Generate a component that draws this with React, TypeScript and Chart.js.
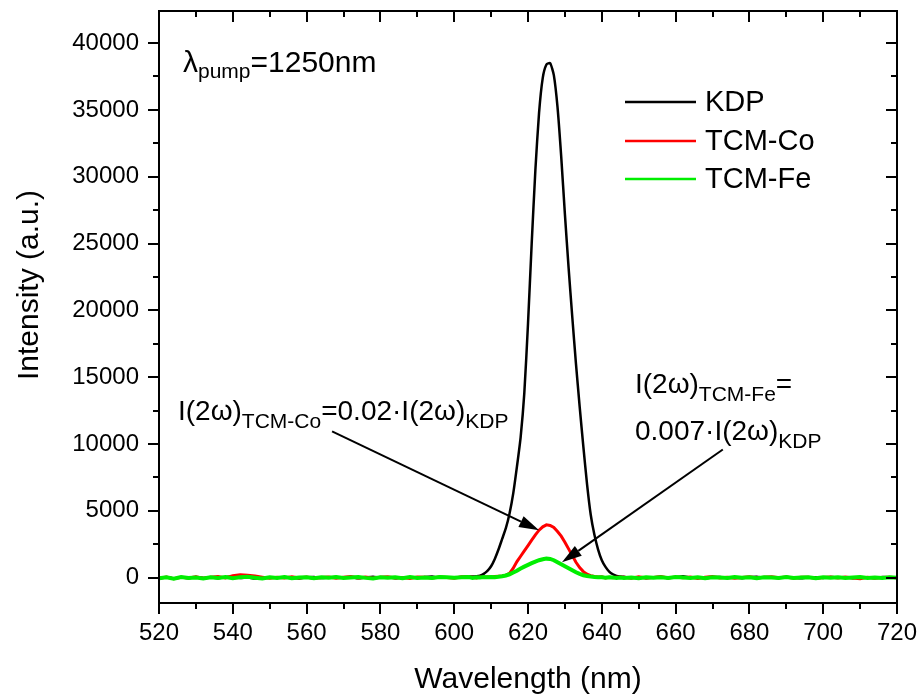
import React, { useEffect, useRef } from "react";
import { Chart, registerables } from "chart.js";

Chart.register(...registerables);

// ---------- data ----------
const wavelengths = [
  520, 522, 524, 526, 528, 530, 532, 534, 536, 538,
  540, 542, 544, 546, 548, 550, 552, 554, 556, 558,
  560, 562, 564, 566, 568, 570, 572, 574, 576, 578,
  580, 582, 584, 586, 588, 590, 592, 594, 596, 598,
  600, 602, 604,
  605, 606, 607, 608, 609, 610, 611, 612, 613, 614,
  615, 616, 617, 618, 619, 620, 621, 622, 623, 624,
  625, 626, 627, 628, 629, 630, 631, 632, 633, 634,
  635, 636, 637, 638, 639, 640, 641, 642, 643, 644,
  645,
  646, 648, 650, 652, 654, 656, 658, 660, 662, 664,
  666, 668, 670, 672, 674, 676, 678, 680, 682, 684,
  686, 688, 690, 692, 694, 696, 698, 700, 702, 704,
  706, 708, 710, 712, 714, 716, 718, 720,
];

const kdp = [
  -40, 30, -60, 20, -30, 50, -20, 10, -50, 40,
  60, -30, 20, -70, 10, 30, -20, 40, -10, -60,
  20, 50, -30, 10, 40, -20, 30, -50, 10, 60,
  -10, 20, -40, 30, 10, -20, 40, 80, -10, 30,
  20, 50, 90,
  80, 100, 150, 280, 500, 850, 1400, 2100, 2900, 3700,
  4800, 6300, 8300, 10500, 13800, 19000, 25000, 30500, 34800, 37400,
  38400, 38500, 37600, 35200, 31500, 27200, 23200, 19500, 16000, 12800,
  9800, 7000, 4700, 3200, 2100, 1300, 800, 450, 250, 130,
  80,
  60, -20, 30, -40, 10, 50, -30, 20, 100, -10,
  30, -50, 20, 40, -20, 10, -40, 30, 60, -10,
  20, -30, 40, 10, -50, 30, 20, -20, 50, -10,
  30, -40, 10, 20, -30, 40, 10, -20,
];

const tcmCo = [
  -60, 40, -80, 30, -20, 60, -40, 20, 80, -30,
  150, 220, 180, 120, 30, -50, 20, -30, 60, -20,
  40, -60, 10, 50, -40, 30, 80, -20, 40, -50,
  20, 60, -30, 10, -60, 40, 20, -30, 50, 10,
  -40, 60, 30,
  20, -30, 40, 10, 60, 40, 80, 100, 120, 180,
  320, 700, 1200, 1600, 2000, 2400, 2800, 3200, 3550, 3800,
  3950, 3900, 3750, 3450, 3100, 2650, 2150, 1650, 1150, 750,
  450, 250, 150, 80, 40, 60, -20, 30, -10, 20,
  20,
  30, -40, 60, -20, 10, 80, -30, 40, -10, 50,
  -60, 20, 90, -20, 30, -40, 10, 60, -30, 20,
  70, -10, 40, -50, 20, 30, -60, 10, 50, -20,
  40, -30, -80, 20, -40, 10, 30, -20,
];

const tcmFe = [
  -50, 20, -80, 40, -30, 10, -60, 30, -20, 50,
  -40, 20, 60, -10, -70, 30, -20, 40, -50, 10,
  30, -40, 20, -10, 50, -30, 10, 40, -20, -60,
  30, -10, 20, -40, 50, -20, 10, -30, 40, 20,
  -10, 30, 50,
  -20, 30, 10, 40, 20, 50, 30, 60, 100, 160,
  250, 380, 520, 680, 820, 950, 1080, 1200, 1300, 1370,
  1420, 1400, 1300, 1150, 1000, 850, 700, 550, 400, 280,
  180, 120, 80, 50, 30, 20, -10, 30, 10, -20,
  10,
  -20, 10, -40, 30, -10, 20, -30, 40, 10, -20,
  30, -50, 20, 10, -30, 40, -10, 20, -40, 30,
  10, -20, 40, -30, 10, 20, -40, 30, -10, 20,
  -30, 10, 40, -20, 10, -30, 20, -10,
];

const seriesNames = ["KDP", "TCM-Co", "TCM-Fe"];
const seriesColors = ["#000000", "#ff0000", "#00ee00"];

const xTicks = [520, 540, 560, 580, 600, 620, 640, 660, 680, 700, 720];
const yTicks = [0, 5000, 10000, 15000, 20000, 25000, 30000, 35000, 40000];

const xTitle = "Wavelength (nm)";
const yTitle = "Intensity (a.u.)";

// annotation arrows in data units: [x0, y0, x1, y1]
const arrowCo = [566.9, 10940, 623.0, 3540];
const arrowFe = [672.8, 9590, 629.2, 1144];

const FONT = '"Liberation Sans", Arial, Helvetica, sans-serif';

type Part = [string, boolean];

function drawRich(
  ctx: CanvasRenderingContext2D,
  x: number,
  y: number,
  parts: Part[],
  big: number,
  small: number,
  subDy: number
) {
  let cx = x;
  ctx.textAlign = "left";
  ctx.textBaseline = "alphabetic";
  for (const [t, sub] of parts) {
    ctx.font = `${sub ? small : big}px ${FONT}`;
    ctx.fillText(t, cx, sub ? y + subDy : y);
    cx += ctx.measureText(t).width;
  }
}

function drawArrow(
  ctx: CanvasRenderingContext2D,
  x0: number,
  y0: number,
  x1: number,
  y1: number
) {
  const ang = Math.atan2(y1 - y0, x1 - x0);
  const hl = 20;
  const hw = 6;
  const bx = x1 - hl * Math.cos(ang);
  const by = y1 - hl * Math.sin(ang);
  ctx.beginPath();
  ctx.moveTo(x0, y0);
  ctx.lineTo(bx, by);
  ctx.stroke();
  ctx.beginPath();
  ctx.moveTo(x1, y1);
  ctx.lineTo(bx + hw * Math.sin(ang), by - hw * Math.cos(ang));
  ctx.lineTo(bx - hw * Math.sin(ang), by + hw * Math.cos(ang));
  ctx.closePath();
  ctx.fill();
}

const decorPlugin = {
  id: "decor",
  afterDatasetsDraw(chart: any) {
    const { ctx, chartArea: a, scales } = chart;
    const xs = scales.x;
    const ys = scales.y;
    ctx.save();
    ctx.strokeStyle = "#000";
    ctx.fillStyle = "#000";
    ctx.lineWidth = 2;

    // frame
    ctx.strokeRect(a.left, a.top, a.right - a.left, a.bottom - a.top);

    const major = 11;
    const minor = 6;
    // x ticks
    const xMinor: number[] = [];
    for (let i = 0; i < xTicks.length - 1; i++) xMinor.push((xTicks[i] + xTicks[i + 1]) / 2);
    ctx.beginPath();
    for (const v of xTicks) {
      const p = Math.round(xs.getPixelForValue(v));
      ctx.moveTo(p, a.bottom);
      ctx.lineTo(p, a.bottom + major);
      ctx.moveTo(p, a.top);
      ctx.lineTo(p, a.top + major);
    }
    for (const v of xMinor) {
      const p = Math.round(xs.getPixelForValue(v));
      ctx.moveTo(p, a.bottom);
      ctx.lineTo(p, a.bottom + minor);
      ctx.moveTo(p, a.top);
      ctx.lineTo(p, a.top + minor);
    }
    // y ticks
    const yMinor: number[] = [];
    for (let i = 0; i < yTicks.length - 1; i++) yMinor.push((yTicks[i] + yTicks[i + 1]) / 2);
    for (const v of yTicks) {
      const p = Math.round(ys.getPixelForValue(v));
      ctx.moveTo(a.left, p);
      ctx.lineTo(a.left - major, p);
      ctx.moveTo(a.right, p);
      ctx.lineTo(a.right - major, p);
    }
    for (const v of yMinor) {
      const p = Math.round(ys.getPixelForValue(v));
      ctx.moveTo(a.left, p);
      ctx.lineTo(a.left - minor, p);
      ctx.moveTo(a.right, p);
      ctx.lineTo(a.right - minor, p);
    }
    ctx.stroke();

    // axis titles
    ctx.font = `30px ${FONT}`;
    ctx.textAlign = "center";
    ctx.textBaseline = "alphabetic";
    ctx.fillText(xTitle, (a.left + a.right) / 2, 688);
    ctx.save();
    ctx.translate(38, 285);
    ctx.rotate(-Math.PI / 2);
    ctx.fillText(yTitle, 0, 0);
    ctx.restore();

    // legend
    const legX0 = 625;
    const legX1 = 696;
    const legY = [102, 141, 179];
    seriesNames.forEach((name, i) => {
      ctx.strokeStyle = seriesColors[i];
      ctx.lineWidth = 2.5;
      ctx.beginPath();
      ctx.moveTo(legX0, legY[i]);
      ctx.lineTo(legX1, legY[i]);
      ctx.stroke();
      ctx.fillStyle = "#000";
      ctx.font = `29px ${FONT}`;
      ctx.textAlign = "left";
      ctx.textBaseline = "middle";
      ctx.fillText(name, 705, legY[i] + 1);
    });

    // lambda pump annotation
    ctx.fillStyle = "#000";
    drawRich(ctx, 183, 72, [["λ", false], ["pump", true], ["=1250nm", false]], 30, 21, 6);

    // TCM-Co annotation
    drawRich(
      ctx,
      178,
      420,
      [["I(2ω)", false], ["TCM-Co", true], ["=0.02·I(2ω)", false], ["KDP", true]],
      28,
      21,
      8
    );
    // TCM-Fe annotation
    drawRich(ctx, 635, 393, [["I(2ω)", false], ["TCM-Fe", true], ["=", false]], 28, 21, 8);
    drawRich(ctx, 635, 440, [["0.007·I(2ω)", false], ["KDP", true]], 28, 21, 8);

    // arrows
    ctx.strokeStyle = "#000";
    ctx.fillStyle = "#000";
    ctx.lineWidth = 2;
    for (const arr of [arrowCo, arrowFe]) {
      drawArrow(
        ctx,
        xs.getPixelForValue(arr[0]),
        ys.getPixelForValue(arr[1]),
        xs.getPixelForValue(arr[2]),
        ys.getPixelForValue(arr[3])
      );
    }
    ctx.restore();
  },
};

export default function App() {
  const canvasRef = useRef<HTMLCanvasElement | null>(null);

  useEffect(() => {
    const canvas = canvasRef.current;
    if (!canvas) return;
    const mk = (vals: number[]) => wavelengths.map((w, i) => ({ x: w, y: vals[i] }));
    const chart = new Chart(canvas, {
      type: "line",
      data: {
        datasets: [
          {
            label: seriesNames[0],
            data: mk(kdp),
            borderColor: seriesColors[0],
            borderWidth: 2.5,
            pointRadius: 0,
            tension: 0.2,
            order: 2,
          },
          {
            label: seriesNames[1],
            data: mk(tcmCo),
            borderColor: seriesColors[1],
            borderWidth: 3,
            pointRadius: 0,
            tension: 0,
            order: 1,
          },
          {
            label: seriesNames[2],
            data: mk(tcmFe),
            borderColor: seriesColors[2],
            borderWidth: 4,
            pointRadius: 0,
            tension: 0,
            order: 0,
          },
        ],
      },
      options: {
        responsive: false,
        animation: false,
        devicePixelRatio: 1,
        layout: { padding: { left: 0, top: 11, right: 25, bottom: 0 } },
        plugins: {
          legend: { display: false },
          tooltip: { enabled: false },
          title: { display: false },
        },
        scales: {
          x: {
            type: "linear",
            min: 520,
            max: 720,
            grid: { display: false, drawTicks: false },
            border: { display: false },
            afterBuildTicks: (s: any) => {
              s.ticks = xTicks.map((v) => ({ value: v }));
            },
            afterFit: (s: any) => {
              s.height = 97;
              s.paddingLeft = 0;
              s.paddingRight = 0;
            },
            ticks: {
              padding: 16,
              color: "#000",
              maxRotation: 0,
              autoSkip: false,
              font: { family: FONT, size: 24 },
              callback: (v: any) => String(v),
            },
          },
          y: {
            type: "linear",
            min: -1900,
            max: 42400,
            grid: { display: false, drawTicks: false },
            border: { display: false },
            afterBuildTicks: (s: any) => {
              s.ticks = yTicks.map((v) => ({ value: v }));
            },
            afterFit: (s: any) => {
              s.width = 159;
              s.paddingTop = 0;
              s.paddingBottom = 0;
            },
            ticks: {
              padding: 20,
              color: "#000",
              autoSkip: false,
              font: { family: FONT, size: 24 },
              callback: (v: any) => String(v),
            },
          },
        },
      },
      plugins: [decorPlugin],
    });
    return () => chart.destroy();
  }, []);

  return (
    <div style={{ position: "absolute", left: 0, top: 0, width: 922, height: 700, background: "#fff" }}>
      <canvas ref={canvasRef} width={922} height={700} style={{ display: "block" }} />
    </div>
  );
}
